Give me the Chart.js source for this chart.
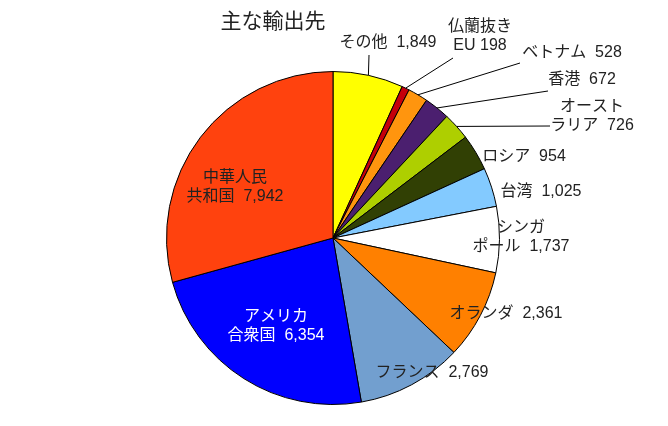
<!DOCTYPE html>
<html lang="ja">
  <head>
    <meta charset="UTF-8" />
    <script src="https://cdn.jsdelivr.net/npm/chart.js"></script>
    <title>主な輸出先</title>
    <style>
      body { margin: 0; background: #fff; }
      canvas { display: block; }
    </style>
  </head>
  <body>
    <canvas id="myChart" width="668" height="426"></canvas>
    <script>
      // データ（時計回り、12時の位置から）
      const countries = ["その他", "仏蘭抜きEU", "ベトナム", "香港", "オーストラリア", "ロシア",
        "台湾", "シンガポール", "オランダ", "フランス", "アメリカ合衆国", "中華人民共和国"];
      const values = [1849, 198, 528, 672, 726, 954, 1025, 1737, 2361, 2769, 6354, 7942];
      // ラベルの改行（最後の行に数値を付ける）
      const labelLines = [["その他"], ["仏蘭抜き", "EU"], ["ベトナム"], ["香港"], ["オースト", "ラリア"],
        ["ロシア"], ["台湾"], ["シンガ", "ポール"], ["オランダ"], ["フランス"], ["アメリカ", "合衆国"], ["中華人民", "共和国"]];
      const sliceColors = ["#FFFF00", "#C5000B", "#FF950E", "#4B1F6F", "#AECF00", "#314004",
        "#83CAFF", "#FFFFFF", "#FF8000", "#729FCF", "#0000FF", "#FF420E"];

      // ラベルの配置（中心x, 1行目のy, 引き出し線の端）
      const labelPos = [
        { x: 388, y: 43, lead: [369, 55] },
        { x: 480, y: 27, lead: [453, 58], sep: " " },
        { x: 572, y: 53, lead: [520, 63] },
        { x: 582, y: 80, lead: [548, 91] },
        { x: 592, y: 107, lead: [550, 126] },
        { x: 524, y: 157 },
        { x: 541, y: 192 },
        { x: 521, y: 228 },
        { x: 506, y: 314 },
        { x: 432, y: 373 },
        { x: 276, y: 317, color: "#ffffff" },
        { x: 235, y: 178 },
      ];

      const fontFamily = '"Liberation Sans", "Noto Sans CJK JP", sans-serif';

      const labelPlugin = {
        id: "labelPlugin",
        afterDraw(chart) {
          const c = chart.ctx;
          const meta = chart.getDatasetMeta(0);
          c.save();
          // タイトル
          c.fillStyle = "#222";
          c.font = "21px " + fontFamily;
          c.textAlign = "center";
          c.textBaseline = "middle";
          c.fillText("主な輸出先", 273, 22);

          c.font = "16px " + fontFamily;
          meta.data.forEach(function (arc, i) {
            const pos = labelPos[i];
            // 引き出し線
            if (pos.lead) {
              const mid = (arc.startAngle + arc.endAngle) / 2;
              const ex = arc.x + Math.cos(mid) * arc.outerRadius;
              const ey = arc.y + Math.sin(mid) * arc.outerRadius;
              c.strokeStyle = "#000";
              c.lineWidth = 1;
              c.beginPath();
              c.moveTo(ex, ey);
              c.lineTo(pos.lead[0], pos.lead[1]);
              c.stroke();
            }
            const lines = labelLines[i].slice();
            const sep = pos.sep || "  ";
            lines[lines.length - 1] += sep + values[i].toLocaleString("en-US");
            c.fillStyle = pos.color || "#222";
            lines.forEach(function (t, k) {
              c.fillText(t, pos.x, pos.y + k * 19);
            });
          });
          c.restore();
        },
      };

      new Chart(document.getElementById("myChart"), {
        type: "pie",
        data: {
          labels: countries,
          datasets: [
            {
              data: values,
              backgroundColor: sliceColors,
              borderColor: "#000",
              borderWidth: 1,
            },
          ],
        },
        options: {
          responsive: false,
          animation: false,
          layout: { padding: { top: 71, bottom: 21, left: 0, right: 2 } },
          plugins: {
            legend: { display: false },
            title: { display: false },
            tooltip: { enabled: false },
          },
        },
        plugins: [labelPlugin],
      });
    </script>
  </body>
</html>
